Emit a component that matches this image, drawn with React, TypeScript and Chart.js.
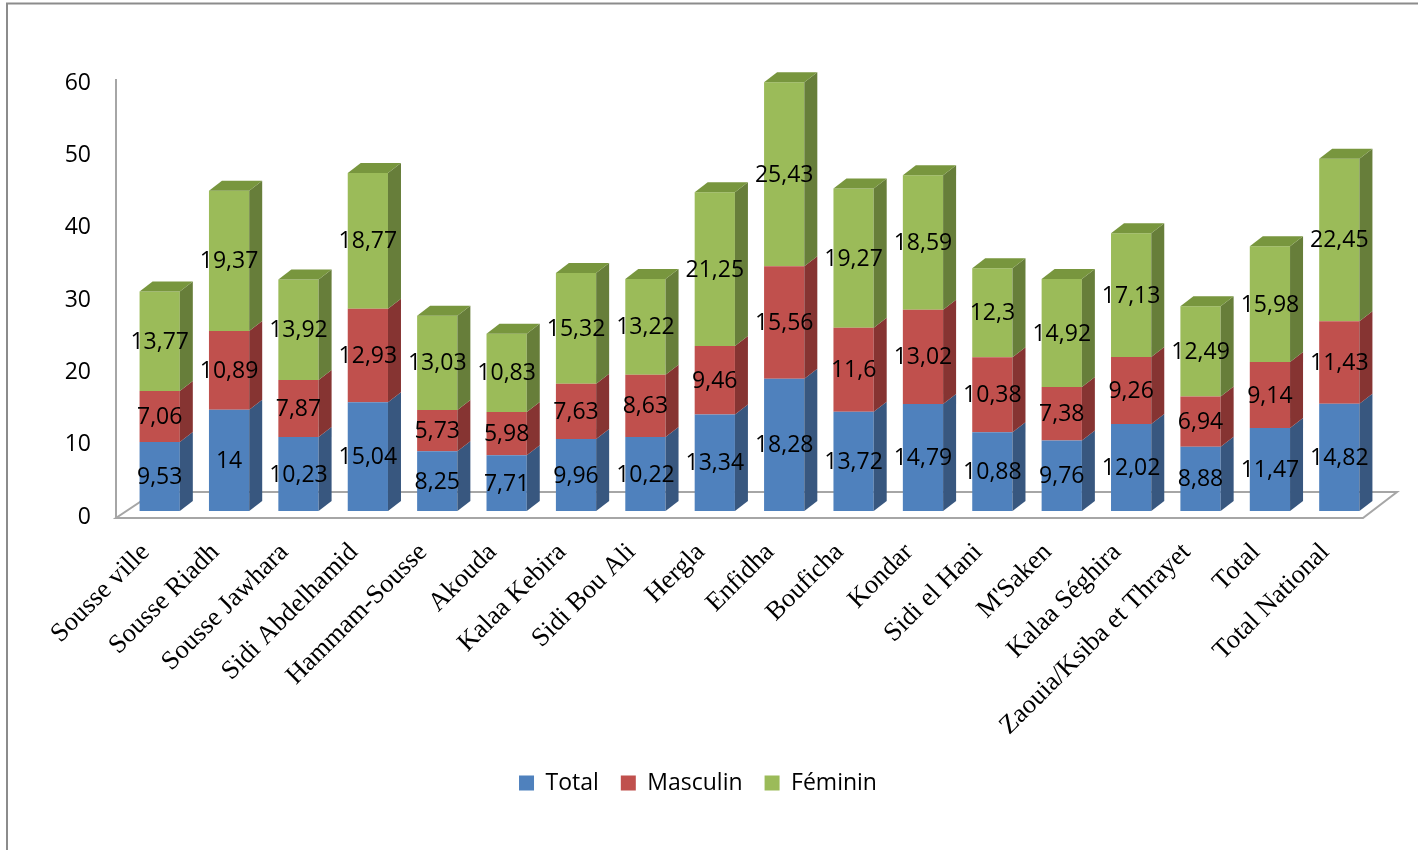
import React, { useEffect, useRef } from "react";
import { Chart, registerables } from "chart.js";

Chart.register(...registerables);

const categories = [
  "Sousse ville",
  "Sousse Riadh",
  "Sousse Jawhara",
  "Sidi Abdelhamid",
  "Hammam-Sousse",
  "Akouda",
  "Kalaa Kebira",
  "Sidi Bou Ali",
  "Hergla",
  "Enfidha",
  "Bouficha",
  "Kondar",
  "Sidi el Hani",
  "M'Saken",
  "Kalaa Séghira",
  "Zaouia/Ksiba et Thrayet",
  "Total",
  "Total National",
];

const totalValues = [9.53, 14, 10.23, 15.04, 8.25, 7.71, 9.96, 10.22, 13.34, 18.28, 13.72, 14.79, 10.88, 9.76, 12.02, 8.88, 11.47, 14.82];
const masculinValues = [7.06, 10.89, 7.87, 12.93, 5.73, 5.98, 7.63, 8.63, 9.46, 15.56, 11.6, 13.02, 10.38, 7.38, 9.26, 6.94, 9.14, 11.43];
const femininValues = [13.77, 19.37, 13.92, 18.77, 13.03, 10.83, 15.32, 13.22, 21.25, 25.43, 19.27, 18.59, 12.3, 14.92, 17.13, 12.49, 15.98, 22.45];

const seriesNames = ["Total", "Masculin", "Féminin"];
const yTicks = [0, 10, 20, 30, 40, 50, 60];

const frontColors = ["#4F81BD", "#C0504D", "#9BBB59"];
const sideColors = ["#38577F", "#863432", "#677E3A"];
const topColors = ["#44709F", "#A64542", "#78963E"];

const DX = 13;
const DY = 10;

const fmt = (v: number) => String(v).replace(".", ",");

const threeDPlugin = {
  id: "threeD",
  beforeDraw(chart: any) {
    const ctx = chart.ctx;
    ctx.save();
    ctx.fillStyle = "#ffffff";
    ctx.fillRect(0, 0, chart.width, chart.height);
    ctx.strokeStyle = "#8C8C8C";
    ctx.lineWidth = 2;
    ctx.strokeRect(7, 3.5, chart.width + 40, chart.height + 40);
    ctx.restore();
  },
  beforeDatasetsDraw(chart: any) {
    const ctx = chart.ctx;
    const ys = chart.scales.y;
    const area = chart.chartArea;
    const y0 = ys.getPixelForValue(0);
    const yTop = ys.getPixelForValue(60);
    ctx.save();
    ctx.strokeStyle = "#A6A6A6";
    ctx.lineWidth = 2;
    // floor
    ctx.beginPath();
    ctx.moveTo(area.left - 9, y0 + 7);
    ctx.lineTo(area.right - 11, y0 + 7);
    ctx.lineTo(area.right + 23, y0 - 19);
    ctx.lineTo(area.left + 30, y0 - 19);
    ctx.closePath();
    ctx.stroke();
    // vertical axis line
    ctx.beginPath();
    ctx.moveTo(area.left - 9, yTop + 2);
    ctx.lineTo(area.left - 9, y0 + 7);
    ctx.stroke();
    ctx.restore();
  },
  afterDatasetsDraw(chart: any) {
    const ctx = chart.ctx;
    const nSets = chart.data.datasets.length;
    ctx.save();
    for (let d = 0; d < nSets; d++) {
      const meta = chart.getDatasetMeta(d);
      meta.data.forEach((bar: any) => {
        const { x, y, base, width } = bar.getProps(["x", "y", "base", "width"], true);
        const left = x - width / 2;
        const right = x + width / 2;
        // side face
        ctx.fillStyle = sideColors[d];
        ctx.beginPath();
        ctx.moveTo(right, y);
        ctx.lineTo(right + DX, y - DY);
        ctx.lineTo(right + DX, base - DY);
        ctx.lineTo(right, base);
        ctx.closePath();
        ctx.fill();
        // top face only on topmost segment
        if (d === nSets - 1) {
          ctx.fillStyle = topColors[d];
          ctx.beginPath();
          ctx.moveTo(left, y);
          ctx.lineTo(left + DX, y - DY);
          ctx.lineTo(right + DX, y - DY);
          ctx.lineTo(right, y);
          ctx.closePath();
          ctx.fill();
        }
      });
    }
    // value labels
    ctx.fillStyle = "#000000";
    ctx.font = "23px 'Open Sans'";
    ctx.textAlign = "center";
    ctx.textBaseline = "middle";
    for (let d = 0; d < nSets; d++) {
      const meta = chart.getDatasetMeta(d);
      const values = chart.data.datasets[d].data as number[];
      meta.data.forEach((bar: any, i: number) => {
        const { x, y, base } = bar.getProps(["x", "y", "base"], true);
        ctx.fillText(fmt(values[i]), x, (y + base) / 2 + 1);
      });
    }
    ctx.restore();
  },
};

export default function App() {
  const canvasRef = useRef<HTMLCanvasElement | null>(null);

  useEffect(() => {
    if (!canvasRef.current) return;
    const seriesValues = [totalValues, masculinValues, femininValues];
    const chart = new Chart(canvasRef.current, {
      type: "bar",
      data: {
        labels: categories,
        datasets: seriesNames.map((name, k) => ({
          label: name,
          data: seriesValues[k],
          backgroundColor: frontColors[k],
          borderWidth: 0,
          barPercentage: 0.58,
          categoryPercentage: 1.0,
        })),
      },
      options: {
        responsive: false,
        animation: false,
        devicePixelRatio: 1,
        layout: { padding: { top: 77, left: 22, right: 44, bottom: 45.5 } },
        plugins: {
          tooltip: { enabled: false },
          title: { display: false },
          legend: {
            display: true,
            position: "bottom",
            labels: {
              color: "#000000",
              font: { family: "'Open Sans'", size: 23 },
              boxWidth: 15,
              boxHeight: 15,
              padding: 22,
            },
          },
        },
        scales: {
          x: {
            stacked: true,
            grid: { display: false, drawTicks: false },
            border: { display: false },
            afterFit: (scale: any) => {
              scale.height = 238.5;
            },
            ticks: {
              color: "#000000",
              font: { family: "'Liberation Serif'", size: 26.5 },
              minRotation: 45,
              maxRotation: 45,
              autoSkip: false,
              padding: 26,
              labelOffset: -14,
            },
          },
          y: {
            stacked: true,
            min: 0,
            max: 60,
            grid: { display: false, drawTicks: false },
            border: { display: false },
            afterFit: (scale: any) => {
              scale.width = 103;
            },
            afterBuildTicks: (scale: any) => {
              scale.ticks = yTicks.map((v) => ({ value: v }));
            },
            ticks: {
              color: "#000000",
              font: { family: "'Open Sans'", size: 23 },
              padding: 34,
              labelOffset: 6,
            },
          },
        },
      },
      plugins: [threeDPlugin],
    });
    return () => chart.destroy();
  }, []);

  return (
    <div style={{ position: "fixed", left: 0, top: 0, width: 1418, height: 850 }}>
      <canvas ref={canvasRef} width={1418} height={850} />
    </div>
  );
}
